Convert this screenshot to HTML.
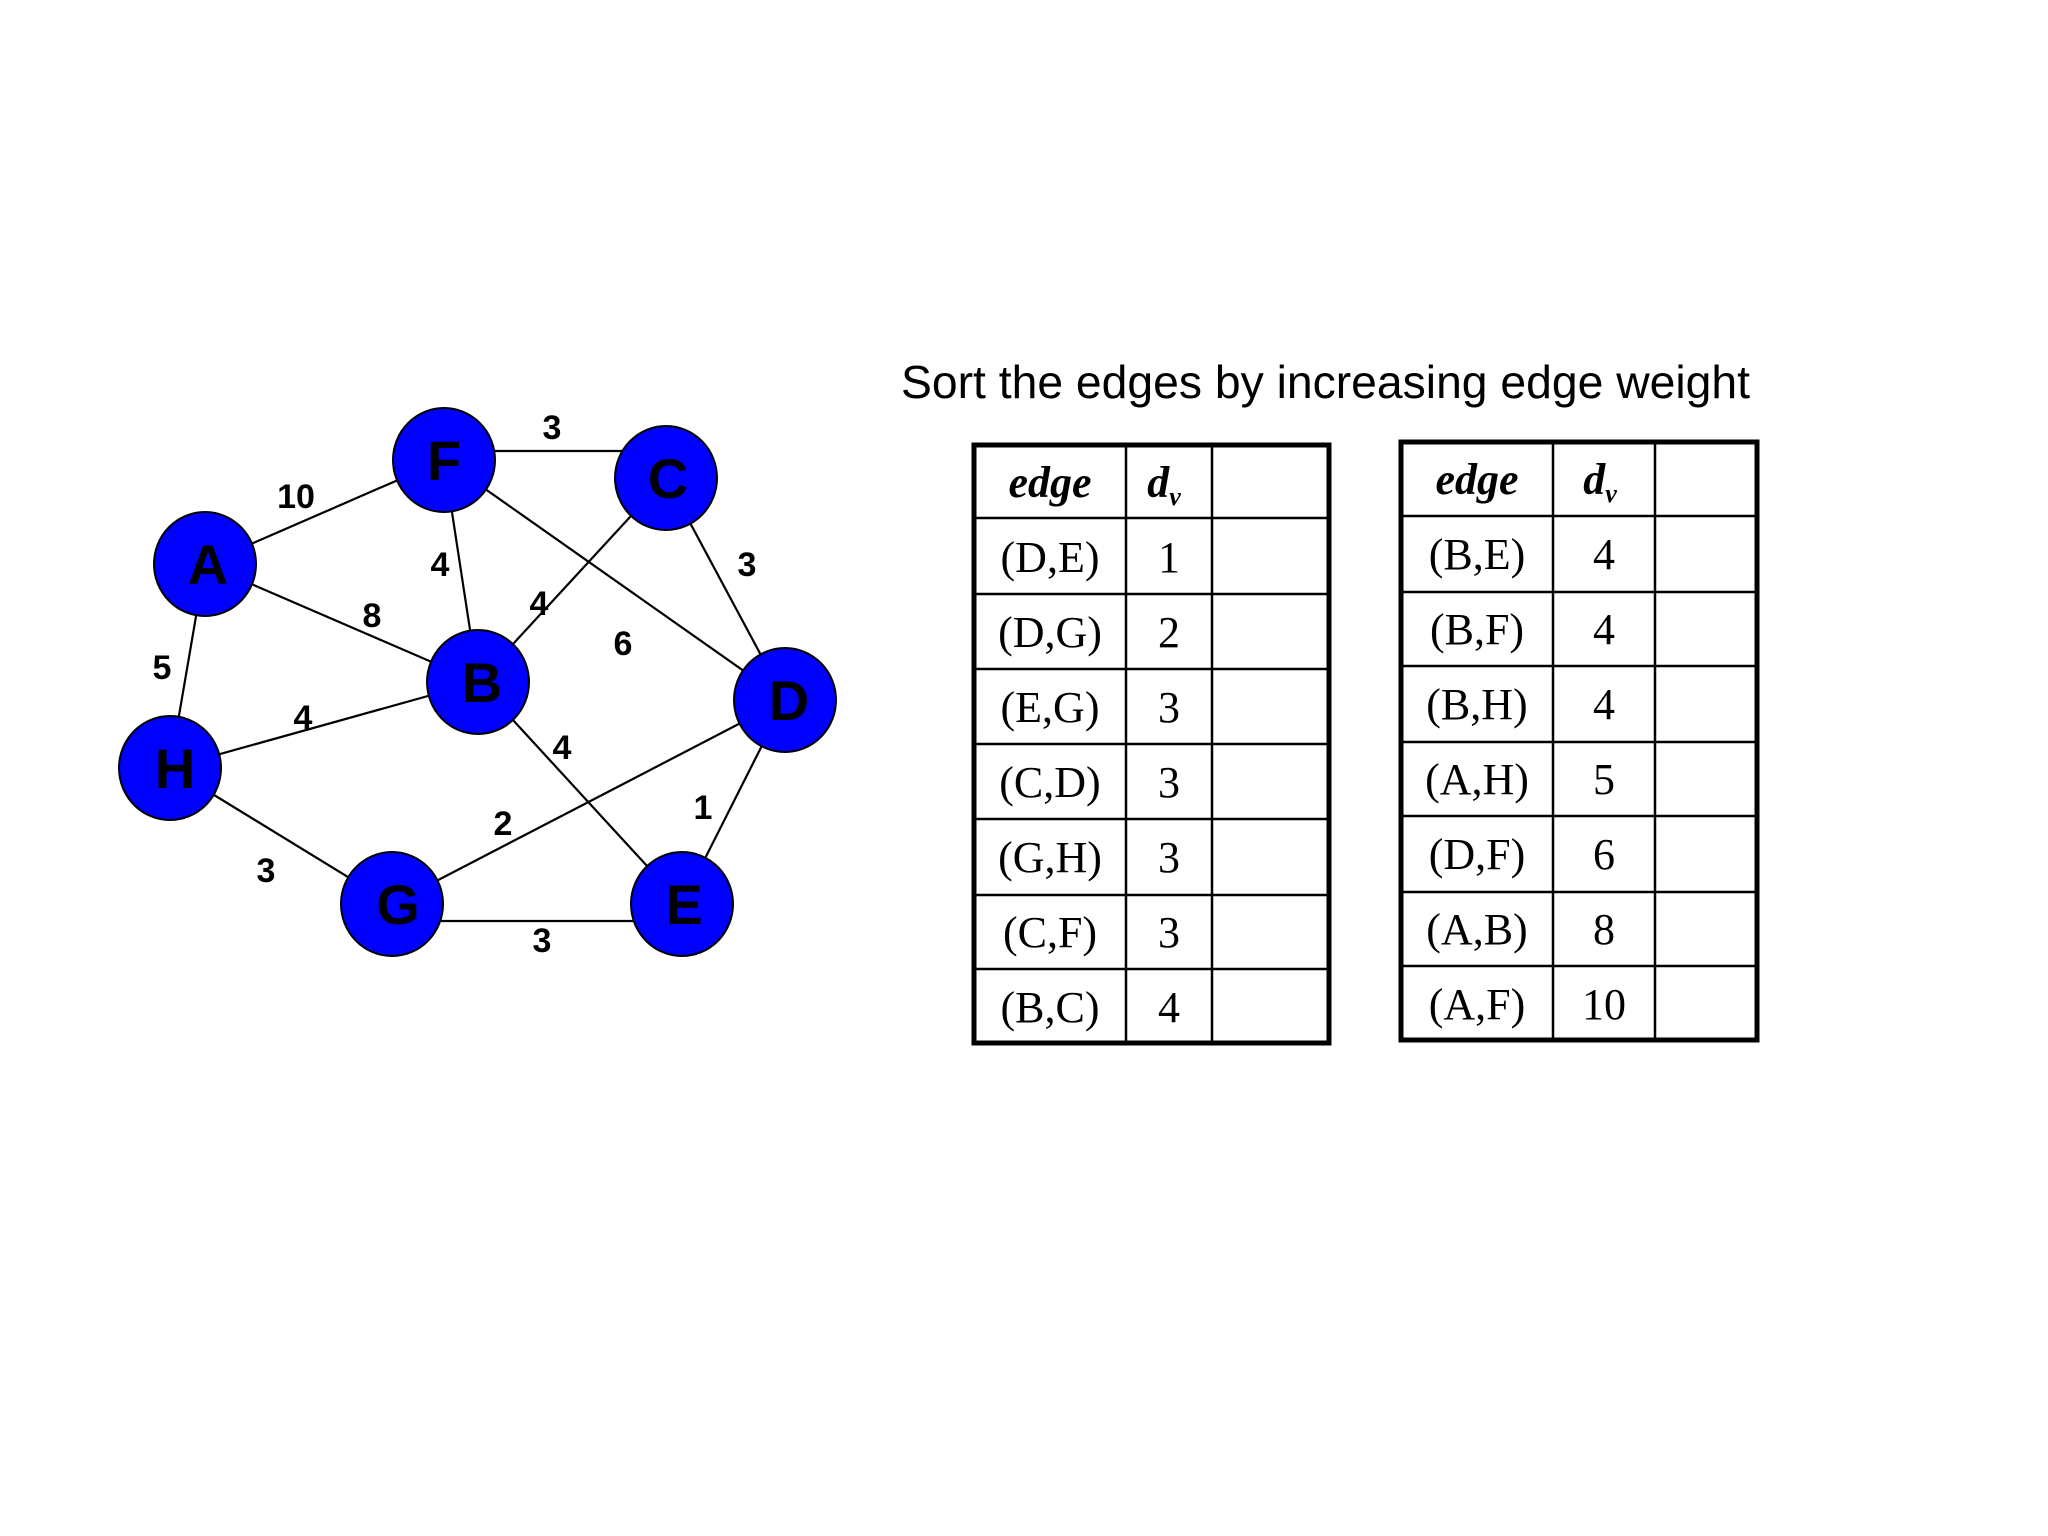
<!DOCTYPE html>
<html><head><meta charset="utf-8"><style>
html,body{margin:0;padding:0;background:#fff;}
svg{display:block;}
</style></head><body>
<svg width="2048" height="1536" viewBox="0 0 2048 1536" xmlns="http://www.w3.org/2000/svg">
<rect width="2048" height="1536" fill="#fff"/>
<g stroke="#000" stroke-width="2.2" fill="none">
<line x1="205" y1="564" x2="444" y2="460"/>
<line x1="444" y1="451" x2="666" y2="451"/>
<line x1="205" y1="564" x2="478" y2="682"/>
<line x1="205" y1="564" x2="170" y2="768"/>
<line x1="444" y1="460" x2="478" y2="682"/>
<line x1="444" y1="460" x2="785" y2="700"/>
<line x1="666" y1="478" x2="478" y2="682"/>
<line x1="666" y1="478" x2="785" y2="700"/>
<line x1="170" y1="768" x2="478" y2="682"/>
<line x1="478" y1="682" x2="682" y2="904"/>
<line x1="785" y1="700" x2="392" y2="904"/>
<line x1="785" y1="700" x2="682" y2="904"/>
<line x1="170" y1="768" x2="392" y2="904"/>
<line x1="392" y1="921" x2="682" y2="921"/>
</g>
<g fill="#0000ff" stroke="#000" stroke-width="2">
<ellipse cx="444" cy="460" rx="51" ry="52"/>
<ellipse cx="666" cy="478" rx="51" ry="52"/>
<ellipse cx="205" cy="564" rx="51" ry="52"/>
<ellipse cx="478" cy="682" rx="51" ry="52"/>
<ellipse cx="785" cy="700" rx="51" ry="52"/>
<ellipse cx="170" cy="768" rx="51" ry="52"/>
<ellipse cx="392" cy="904" rx="51" ry="52"/>
<ellipse cx="682" cy="904" rx="51" ry="52"/>
</g>
<g font-family="Liberation Sans, sans-serif" font-weight="bold" font-size="56" text-anchor="middle" fill="#000">
<text x="444" y="480">F</text>
<text x="668" y="498">C</text>
<text x="208" y="584">A</text>
<text x="482" y="702">B</text>
<text x="789" y="720">D</text>
<text x="175" y="788">H</text>
<text x="398" y="924">G</text>
<text x="684" y="924">E</text>
</g>
<g font-family="Liberation Sans, sans-serif" font-weight="bold" font-size="34" text-anchor="middle" fill="#000">
<text x="552" y="439">3</text>
<text x="296" y="508">10</text>
<text x="440" y="576">4</text>
<text x="372" y="627">8</text>
<text x="539" y="615">4</text>
<text x="623" y="655">6</text>
<text x="747" y="576">3</text>
<text x="162" y="679">5</text>
<text x="303" y="729">4</text>
<text x="562" y="759">4</text>
<text x="503" y="835">2</text>
<text x="703" y="819">1</text>
<text x="266" y="882">3</text>
<text x="542" y="952">3</text>
</g>
<text x="901" y="398" font-family="Liberation Sans, sans-serif" font-size="46" textLength="849" lengthAdjust="spacingAndGlyphs" fill="#000">Sort the edges by increasing edge weight</text>

<!-- Table 1 -->
<g stroke="#000" fill="none">
<rect x="974" y="445" width="355" height="598" stroke-width="5"/>
<g stroke-width="2.5">
<line x1="1126" y1="445" x2="1126" y2="1043"/>
<line x1="1212" y1="445" x2="1212" y2="1043"/>
<line x1="974" y1="518" x2="1329" y2="518"/>
<line x1="974" y1="594" x2="1329" y2="594"/>
<line x1="974" y1="669" x2="1329" y2="669"/>
<line x1="974" y1="744" x2="1329" y2="744"/>
<line x1="974" y1="819" x2="1329" y2="819"/>
<line x1="974" y1="895" x2="1329" y2="895"/>
<line x1="974" y1="969" x2="1329" y2="969"/>
</g>
<rect x="1401" y="442" width="356" height="598" stroke-width="5"/>
<g stroke-width="2.5">
<line x1="1553" y1="442" x2="1553" y2="1040"/>
<line x1="1655" y1="442" x2="1655" y2="1040"/>
<line x1="1401" y1="516" x2="1757" y2="516"/>
<line x1="1401" y1="592" x2="1757" y2="592"/>
<line x1="1401" y1="666" x2="1757" y2="666"/>
<line x1="1401" y1="742" x2="1757" y2="742"/>
<line x1="1401" y1="816" x2="1757" y2="816"/>
<line x1="1401" y1="892" x2="1757" y2="892"/>
<line x1="1401" y1="966" x2="1757" y2="966"/>
</g>
</g>
<g font-family="Liberation Serif, serif" font-size="44" text-anchor="middle" fill="#000">
<text x="1050" y="497" font-weight="bold" font-style="italic">edge</text>
<text x="1164" y="497" font-weight="bold" font-style="italic">d<tspan font-size="26" dy="8">v</tspan></text>
<text x="1050" y="572">(D,E)</text><text x="1169" y="572">1</text>
<text x="1050" y="647">(D,G)</text><text x="1169" y="647">2</text>
<text x="1050" y="722">(E,G)</text><text x="1169" y="722">3</text>
<text x="1050" y="797">(C,D)</text><text x="1169" y="797">3</text>
<text x="1050" y="872">(G,H)</text><text x="1169" y="872">3</text>
<text x="1050" y="947">(C,F)</text><text x="1169" y="947">3</text>
<text x="1050" y="1022">(B,C)</text><text x="1169" y="1022">4</text>

<text x="1477" y="494" font-weight="bold" font-style="italic">edge</text>
<text x="1600" y="494" font-weight="bold" font-style="italic">d<tspan font-size="26" dy="8">v</tspan></text>
<text x="1477" y="569">(B,E)</text><text x="1604" y="569">4</text>
<text x="1477" y="644">(B,F)</text><text x="1604" y="644">4</text>
<text x="1477" y="719">(B,H)</text><text x="1604" y="719">4</text>
<text x="1477" y="794">(A,H)</text><text x="1604" y="794">5</text>
<text x="1477" y="869">(D,F)</text><text x="1604" y="869">6</text>
<text x="1477" y="944">(A,B)</text><text x="1604" y="944">8</text>
<text x="1477" y="1019">(A,F)</text><text x="1604" y="1019">10</text>
</g>
</svg>
</body></html>
